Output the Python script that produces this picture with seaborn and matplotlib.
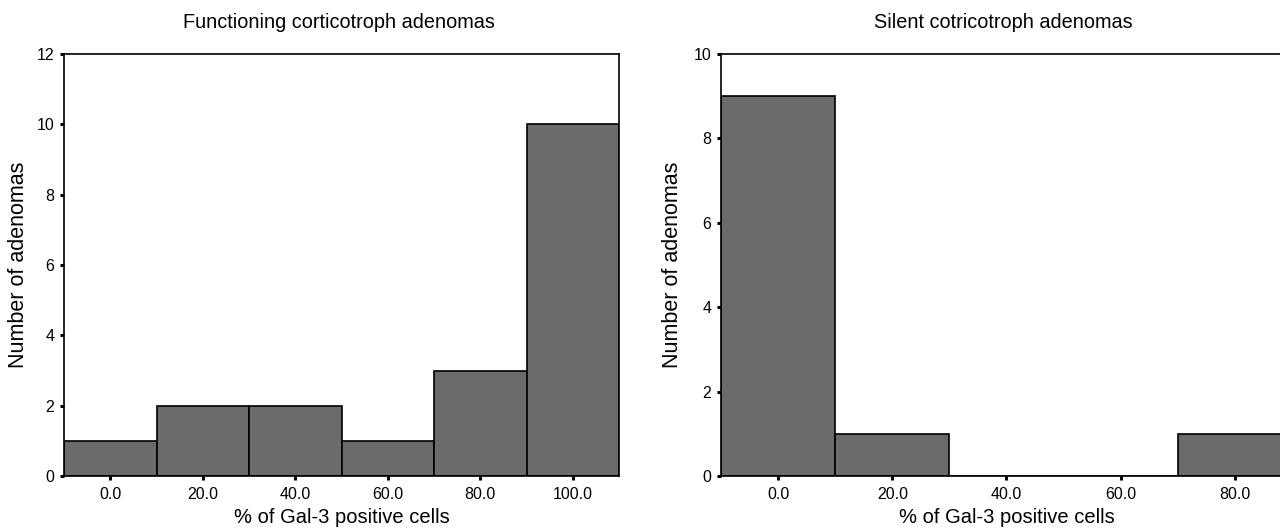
import numpy as np
import pandas as pd
import seaborn as sns
import matplotlib.pyplot as plt
from matplotlib.ticker import FormatStrFormatter

# bin centres (% of Gal-3 positive cells) and counts
functioning_centers = [0, 20, 40, 60, 80, 100]
functioning_counts = [1, 2, 2, 1, 3, 10]
silent_centers = [0, 20, 40, 60, 80]
silent_counts = [9, 1, 0, 0, 1]

bar_color = "#6b6b6b"

sns.set_style("white")
plt.rcParams["font.family"] = ["Liberation Sans", "DejaVu Sans"]
plt.rcParams["text.color"] = "black"
plt.rcParams["axes.labelcolor"] = "black"

fig = plt.figure(figsize=(12.8, 5.31), dpi=100)
W, H = 1280, 531


def px_axes(left, top, right, bottom):
    return fig.add_axes([left / W, 1 - bottom / H, (right - left) / W, (bottom - top) / H])


def draw_hist(ax, centers, counts, ymax, ystep):
    df = pd.DataFrame({"pct": centers, "n": counts})
    sns.histplot(data=df, x="pct", weights="n", binwidth=20,
                 binrange=(min(centers) - 10, max(centers) + 10), ax=ax,
                 color=bar_color, alpha=1, edgecolor="black", linewidth=1.2)
    ax.set_ylim(0, ymax)
    ax.set_yticks(np.arange(0, ymax + 1, ystep))
    ax.set_xticks(centers)
    ax.xaxis.set_major_formatter(FormatStrFormatter("%.1f"))
    for s in ax.spines.values():
        s.set_color("black")
        s.set_linewidth(1.2)
    ax.tick_params(axis="both", direction="out", length=3, width=2.2,
                   colors="black", labelsize=11.5, bottom=True, left=True)
    ax.tick_params(axis="x", pad=5)
    ax.tick_params(axis="y", pad=4)
    ax.set_ylabel("Number of adenomas", fontsize=15.5)
    ax.set_xlabel("% of Gal-3 positive cells", fontsize=14.5)


# left panel
ax1 = px_axes(64, 54, 619, 476)
draw_hist(ax1, functioning_centers, functioning_counts, 12, 2)
ax1.set_xlim(-10, 110)
ax1.xaxis.set_label_coords(0.5, -0.076)
ax1.yaxis.set_label_coords(-0.063, 0.5)
fig.text(339 / W, 1 - 22 / H, "Functioning corticotroph adenomas",
         ha="center", va="center", fontsize=14.3)

# right panel (cropped at the right edge in the reference)
ax2 = px_axes(721, 54, 1406, 476)
draw_hist(ax2, silent_centers, silent_counts, 10, 2)
ax2.set_xlim(-10, 110)
ax2.xaxis.set_label_coords((1007 - 721) / 685, -0.076)
ax2.yaxis.set_label_coords(-0.055, 0.5)
fig.text(1003 / W, 1 - 22 / H, "Silent cotricotroph adenomas",
         ha="center", va="center", fontsize=14.3)

fig.savefig("out.png", dpi=100)
